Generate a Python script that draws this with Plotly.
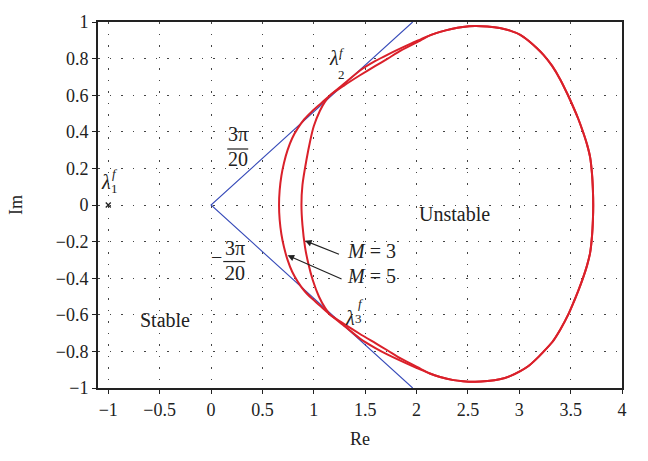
import math
import plotly.graph_objects as go

# Stability boundary for M = 5 (outer curve), traced counter-clockwise from the rightmost point
m5_x = [3.72, 3.717, 3.708, 3.69, 3.66, 3.62, 3.575, 3.53, 3.47, 3.40, 3.32, 3.24, 3.17,
        3.09, 3.01, 2.91, 2.81, 2.69, 2.57, 2.45, 2.34, 2.23, 2.13, 2.04, 1.95,
        1.72, 1.60, 1.45, 1.30, 1.16, 1.07, 0.98, 0.91, 0.845, 0.79, 0.745, 0.71, 0.685, 0.668,
        0.662,
        0.668, 0.685, 0.71, 0.745, 0.79, 0.845, 0.91, 0.98, 1.07, 1.16, 1.30, 1.45, 1.60, 1.72,
        1.95, 2.04, 2.13, 2.23, 2.36, 2.45, 2.57, 2.69, 2.81, 2.91, 3.01, 3.09, 3.16, 3.23,
        3.32, 3.40, 3.48, 3.53, 3.575, 3.62, 3.66, 3.69, 3.708, 3.717, 3.72]
m5_y = [0.00, 0.08, 0.17, 0.26, 0.33, 0.40, 0.47, 0.53, 0.605, 0.685, 0.76, 0.818, 0.858,
        0.898, 0.93, 0.953, 0.967, 0.975, 0.978, 0.973, 0.962, 0.946, 0.927, 0.905, 0.883,
        0.822, 0.787, 0.735, 0.665, 0.600, 0.555, 0.51, 0.47, 0.42, 0.365, 0.30, 0.23, 0.16, 0.08,
        0.00,
        -0.08, -0.16, -0.23, -0.30, -0.365, -0.42, -0.47, -0.51, -0.555, -0.600, -0.662, -0.73, -0.782, -0.818,
        -0.878, -0.90, -0.921, -0.94, -0.957, -0.963, -0.966, -0.962, -0.952, -0.935, -0.908, -0.88, -0.845, -0.805,
        -0.75, -0.68, -0.595, -0.53, -0.468, -0.40, -0.33, -0.26, -0.17, -0.08, 0.00]

# Stability boundary for M = 3 (inner curve on the left side)
m3_x = [3.72, 3.717, 3.708, 3.69, 3.66, 3.62, 3.575, 3.53, 3.47, 3.40, 3.32, 3.24, 3.17,
        3.09, 3.01, 2.91, 2.81, 2.69, 2.57, 2.45, 2.34, 2.23, 2.13, 2.04,
        1.85, 1.72, 1.60, 1.45, 1.30, 1.16, 1.11, 1.06, 1.00, 0.965, 0.93, 0.89,
        0.88,
        0.89, 0.915, 0.947, 0.99, 1.05, 1.11, 1.16, 1.30, 1.45, 1.60, 1.72, 1.85,
        2.04, 2.13, 2.23, 2.36, 2.45, 2.57, 2.69, 2.81, 2.91, 3.01, 3.09, 3.16, 3.23,
        3.32, 3.40, 3.48, 3.53, 3.575, 3.62, 3.66, 3.69, 3.708, 3.717, 3.72]
m3_y = [0.00, 0.08, 0.17, 0.26, 0.33, 0.40, 0.47, 0.53, 0.605, 0.685, 0.76, 0.818, 0.858,
        0.898, 0.93, 0.953, 0.967, 0.975, 0.978, 0.973, 0.962, 0.946, 0.927, 0.900,
        0.845, 0.800, 0.760, 0.709, 0.655, 0.600, 0.565, 0.515, 0.43, 0.35, 0.25, 0.11,
        0.00,
        -0.11, -0.23, -0.32, -0.41, -0.50, -0.562, -0.600, -0.652, -0.705, -0.755, -0.795, -0.84,
        -0.895, -0.921, -0.94, -0.957, -0.963, -0.966, -0.962, -0.952, -0.935, -0.908, -0.88, -0.845, -0.805,
        -0.75, -0.68, -0.595, -0.53, -0.468, -0.40, -0.33, -0.26, -0.17, -0.08, 0.00]

# Sector of half-angle 3*pi/20 about the positive real axis, clipped at |Im| = 1
wedge_angle = 3 * math.pi / 20
wedge_im = [1.0, 0.0, -1.0]
wedge_re = [abs(v) / math.tan(wedge_angle) for v in wedge_im]

# Eigenvalue lambda_1^f
lam1_re = [-1.0]
lam1_im = [0.0]

x_ticks = [-1, -0.5, 0, 0.5, 1, 1.5, 2, 2.5, 3, 3.5, 4]
x_ticktext = ["\u22121", "\u22120.5", "0", "0.5", "1", "1.5", "2", "2.5", "3", "3.5", "4"]
y_ticks = [1, 0.8, 0.6, 0.4, 0.2, 0, -0.2, -0.4, -0.6, -0.8, -1]
y_ticktext = ["1", "0.8", "0.6", "0.4", "0.2", "0", "\u22120.2", "\u22120.4", "\u22120.6", "\u22120.8", "\u22121"]

SERIF = "Liberation Serif"
RED = "rgb(218,32,42)"
BLUE = "rgb(55,75,185)"
INK = "#222222"

fig = go.Figure()
fig.add_trace(go.Scatter(x=wedge_re, y=wedge_im, mode="lines",
                         line=dict(color=BLUE, width=1.1), hoverinfo="skip"))
fig.add_trace(go.Scatter(x=m5_x, y=m5_y, mode="lines", name="M = 5",
                         line=dict(color=RED, width=2, shape="spline", smoothing=0.6)))
fig.add_trace(go.Scatter(x=m3_x, y=m3_y, mode="lines", name="M = 3",
                         line=dict(color=RED, width=2, shape="spline", smoothing=0.6)))
fig.add_trace(go.Scatter(x=lam1_re, y=lam1_im, mode="markers",
                         marker=dict(symbol="x-thin", size=5, color=INK,
                                     line=dict(width=1.3, color=INK))))


def text(x, y, s, size=20, shift=4, **kw):
    fig.add_annotation(x=x, y=y, xref="x", yref="y", text=s, showarrow=False, yshift=shift,
                       font=dict(family=SERIF, size=size, color=INK), **kw)


# Region labels
text(-0.45, -0.65, "Stable")
text(2.37, -0.07, "Unstable")

# Curve labels with arrows
text(1.30, -0.275, "<i>M</i> = 3", xanchor="left")
text(1.30, -0.408, "<i>M</i> = 5", xanchor="left")
for tail, head in [((1.26, -0.272), (0.915, -0.195)), ((1.285, -0.408), (0.745, -0.275))]:
    fig.add_annotation(x=head[0], y=head[1], ax=tail[0], ay=tail[1], xref="x", yref="y",
                       axref="x", ayref="y", text="", showarrow=True, arrowhead=2,
                       arrowsize=1.1, arrowwidth=1.2, arrowcolor=INK)

# Angle labels 3pi/20 and -3pi/20
text(0.263, 0.367, "3\u03c0")
text(0.263, 0.252, "20", shift=0)
fig.add_shape(type="line", x0=0.158, x1=0.362, y0=0.306, y1=0.306,
              xref="x", yref="y", line=dict(color=INK, width=1.2))
text(0.058, -0.306, "\u2212")
text(0.234, -0.255, "3\u03c0")
text(0.234, -0.372, "20", shift=0)
fig.add_shape(type="line", x0=0.119, x1=0.333, y0=-0.309, y1=-0.309,
              xref="x", yref="y", line=dict(color=INK, width=1.2))

# Eigenvalue labels lambda_k^f
for (lx, ly), (fx, fy), (sx, sy), k in [
        ((-1.018, 0.106), (-0.93, 0.150), (-0.944, 0.066), "1"),
        ((1.193, 0.779), (1.27, 0.812), (1.273, 0.694), "2"),
        ((1.353, -0.638), (1.46, -0.562), (1.436, -0.644), "3")]:
    text(lx, ly, "<i>\u03bb</i>", size=20)
    text(fx, fy, "<i>f</i>", size=13)
    text(sx, sy, k, size=13)

axis_common = dict(showline=True, linecolor=INK, linewidth=2, mirror=True,
                   ticks="outside", ticklen=4, tickwidth=1.3, tickcolor=INK,
                   showgrid=True, gridcolor="#444444", gridwidth=1, griddash="1.5px,10px",
                   zeroline=False, tickfont=dict(family=SERIF, size=18, color=INK),
                   tickmode="array")

fig.update_layout(
    width=648, height=461,
    margin=dict(l=98, r=26, t=12, b=73),
    paper_bgcolor="white", plot_bgcolor="white",
    showlegend=False,
    xaxis=dict(range=[-1.1, 4], tickvals=x_ticks, ticktext=x_ticktext,
               title=dict(text="Re", font=dict(family=SERIF, size=18, color=INK), standoff=14),
               **axis_common),
    yaxis=dict(range=[-1, 1], tickvals=y_ticks, ticktext=y_ticktext,
               title=dict(text="Im", font=dict(family=SERIF, size=18, color=INK), standoff=28),
               **axis_common),
)

fig.write_html("out.html")
